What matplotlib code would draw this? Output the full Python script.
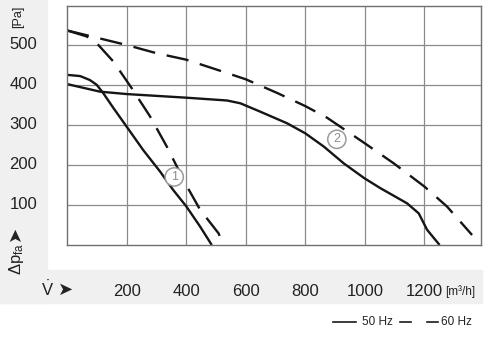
import matplotlib
matplotlib.use("Agg")
import matplotlib.pyplot as plt
from matplotlib.patches import Rectangle

plt.rcParams["font.family"] = ["Liberation Sans", "DejaVu Sans"]
plt.rcParams["mathtext.fontset"] = "custom"
plt.rcParams["mathtext.rm"] = "Liberation Sans"
plt.rcParams["mathtext.it"] = "Liberation Sans"

# Fan characteristic curves: volume flow [m³/h] vs. pressure [Pa]
fan1_50_q = [0, 44, 77, 100, 122, 156, 198, 256, 313, 357, 400, 447, 486]
fan1_50_p = [425, 422, 412, 400, 379, 342, 298, 237, 183, 137, 97, 46, 0]

fan1_60_q = [0, 66, 100, 156, 217, 279, 335, 400, 447, 509, 525]
fan1_60_p = [536, 521, 504, 458, 392, 321, 246, 150, 88, 29, 0]

fan2_50_q = [0, 111, 201, 400, 537, 582, 649, 739, 800, 862, 929, 998, 1052, 1142, 1181, 1209, 1251]
fan2_50_p = [402, 383, 377, 368, 361, 354, 333, 304, 279, 246, 204, 167, 142, 104, 79, 38, 0]

fan2_60_q = [0, 198, 301, 400, 503, 600, 705, 800, 873, 998, 1097, 1200, 1276, 1360]
fan2_60_p = [536, 500, 479, 463, 438, 414, 380, 347, 318, 255, 204, 146, 96, 25]

x_ticks = [200, 400, 600, 800, 1000, 1200]
y_ticks = [100, 200, 300, 400, 500]
curve_labels = ["1", "2"]
curve_label_pos = [(360, 170), (906, 264)]
legend_labels = ["50 Hz", "60 Hz"]

W, H = 494, 338
fig = plt.figure(figsize=(W / 100, H / 100), dpi=100)
fig.patch.set_facecolor("white")

# light grey band behind the axis annotations
grey = "#f0f0f0"
fig.patches.append(Rectangle((0, 1 - 303 / H), 47 / W, 303 / H,
                             transform=fig.transFigure, color=grey, zorder=-5))
fig.patches.append(Rectangle((0, 1 - 303 / H), 482 / W, 33 / H,
                             transform=fig.transFigure, color=grey, zorder=-5))

ax = fig.add_axes([67 / W, 1 - 245 / H, 414 / W, 239 / H])
ax.set_xlim(0, 1390)
ax.set_ylim(0, 597)
ax.set_xticks(x_ticks)
ax.set_yticks(y_ticks)
ax.tick_params(length=0, labelbottom=False, labelleft=False)
ax.grid(True, color="#8a8a8a", lw=0.9)
for s in ax.spines.values():
    s.set_color("#707070")
    s.set_linewidth(1.0)

line_kw = dict(color="#151515", lw=1.7, solid_capstyle="butt")
dash = (0, (9.5, 5.0))
ax.plot(fan1_50_q, fan1_50_p, **line_kw)
ax.plot(fan2_50_q, fan2_50_p, **line_kw)
ax.plot(fan1_60_q, fan1_60_p, ls=dash, **line_kw)
ax.plot(fan2_60_q, fan2_60_p, ls=dash, **line_kw)

for lab, (qx, py) in zip(curve_labels, curve_label_pos):
    ax.text(qx, py, lab, ha="center", va="center", fontsize=9, color="#8c8c8c",
            bbox=dict(boxstyle="circle,pad=0.25", fc="white", ec="#9a9a9a", lw=1.1))

# tick labels
tc = "#222222"
for v in y_ticks:
    ax.text(-30 / 414, v, str(v), transform=ax.get_yaxis_transform(),
            ha="right", va="center", fontsize=12, color=tc, clip_on=False)
for v in x_ticks:
    ax.text(v, -46 / 239, str(v), transform=ax.get_xaxis_transform(),
            ha="center", va="center", fontsize=12, color=tc, clip_on=False)

# units and axis symbols
fig.text(445 / W, 1 - 292 / H, "[m³/h]", ha="left", va="center", fontsize=8.5, color=tc)
fig.text(18 / W, 1 - 17 / H, "[Pa]", ha="center", va="center", rotation=90,
         fontsize=9, color=tc)
fig.text(48 / W, 1 - 289 / H, r"$\dot{\mathrm{V}}$", ha="center", va="center",
         fontsize=12, color=tc)
fig.text(66 / W, 1 - 290 / H, "➤", ha="center", va="center", fontsize=13,
         color=tc, family=["DejaVu Sans"])
fig.text(17 / W, 1 - 259 / H, r"$\Delta\mathrm{p}_{\mathrm{fa}}$", ha="center", va="center",
         rotation=90, fontsize=12, color=tc)
fig.text(15 / W, 1 - 233 / H, "➤", ha="center", va="center", fontsize=13,
         rotation=90, color=tc, family=["DejaVu Sans"])

# legend
ly = 1 - 322 / H
fig.lines.append(plt.Line2D([333 / W, 356 / W], [ly, ly], transform=fig.transFigure,
                            color="#1a1a1a", lw=1.2))
fig.text(362 / W, ly, legend_labels[0], ha="left", va="center", fontsize=8.5, color=tc)
fig.lines.append(plt.Line2D([400 / W, 411 / W], [ly, ly], transform=fig.transFigure,
                            color="#1a1a1a", lw=1.2))
fig.lines.append(plt.Line2D([427 / W, 438 / W], [ly, ly], transform=fig.transFigure,
                            color="#1a1a1a", lw=1.2))
fig.text(441 / W, ly, legend_labels[1], ha="left", va="center", fontsize=8.5, color=tc)

fig.savefig("out.png", dpi=100)
